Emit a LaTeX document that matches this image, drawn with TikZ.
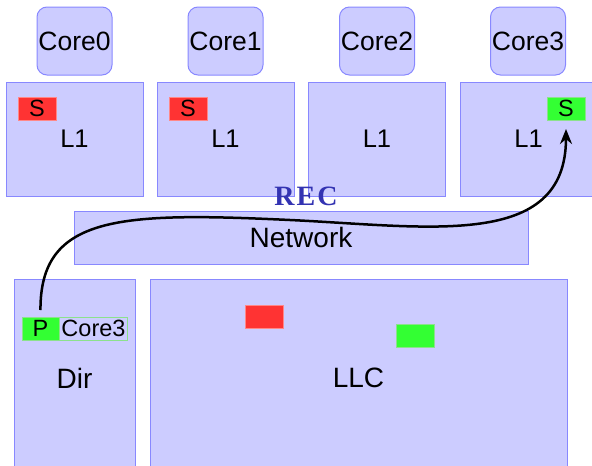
\documentclass[tikz,border=0pt]{standalone}
\usepackage{fontspec}
\setmainfont{Liberation Sans}
\newfontfamily\recfont{Liberation Serif}
\usetikzlibrary{arrows.meta}
\definecolor{boxfill}{RGB}{204,204,255}
\definecolor{boxline}{RGB}{136,136,255}
\definecolor{redfill}{RGB}{255,51,51}
\definecolor{redline}{RGB}{255,136,136}
\definecolor{greenfill}{RGB}{51,255,51}
\definecolor{greenline}{RGB}{140,225,140}
\definecolor{recblue}{RGB}{51,51,178}

\begin{document}
\begin{tikzpicture}[x=1pt,y=-1pt,
  unit/.style={draw=boxline, fill=boxfill, line width=1pt, inner sep=0pt, outer sep=0pt,
    font=\fontsize{28}{32}\selectfont},
  core/.style={unit, rounded corners=10pt, minimum width=75pt, minimum height=68pt,
    font=\fontsize{26.5}{30}\selectfont},
  cache/.style={unit, minimum width=137pt, minimum height=114pt,
    font=\fontsize{25.5}{30}\selectfont},
  tag/.style={inner sep=0pt, outer sep=0pt, line width=1pt, minimum width=38pt,
    minimum height=23pt, font=\fontsize{23.5}{26}\selectfont},
  redtag/.style={tag, fill=redfill, draw=redline},
  greentag/.style={tag, fill=greenfill, draw=greenline},
  msg/.style={-{Stealth[length=15pt,width=12pt]}, line width=2.5pt},
]
\useasboundingbox (0,0) rectangle (592,466);
\clip (0,0) rectangle (592,466);

% cores
\node[core] (c0) at (74.5,41) {Core0};
\node[core] (c1) at (225.5,41) {Core1};
\node[core] (c2) at (377,41) {Core2};
\node[core] (c3) at (528,41) {Core3};

% private L1 caches
\node[cache] (l0) at (74.5,139) {L1};
\node[cache] (l1) at (225.5,139) {L1};
\node[cache] (l2) at (377,139) {L1};
\node[cache] (l3) at (528.5,139) {L1};

% shared-state copies
\node[redtag] (s0) at (37,108.5) {S};
\node[redtag] (s1) at (188,108.5) {S};
\node[greentag] (s3) at (566,108.5) {S};

% interconnect
\node[unit, minimum width=454pt, minimum height=53pt] (net) at (301,237.5) {Network};

% directory and last-level cache
\node[unit, minimum width=121pt, minimum height=198pt] (dir) at (74.5,378) {Dir};
\node[unit, minimum width=417pt, minimum height=198pt] (llc) at (358.5,378) {LLC};

% directory entry
\node[greentag, minimum width=37pt] (p) at (40.5,328.5) {P};
\node[tag, draw=greenline, minimum width=68.5pt] (own) at (93.5,328.5) {Core3};

% LLC lines
\node[redtag] (lr) at (264,316.5) {};
\node[greentag] (lg) at (415,336) {};

% recall message
\node[text=recblue, font=\recfont\bfseries\fontsize{28}{30}\selectfont] (rec) at (306,196)
  {R\kern2pt E\kern2pt C};
\draw[msg, shorten <=7pt, shorten >=9pt] (p.north)
  .. controls (40,215) and (120,212) .. (290,220)
  .. controls (430,226.6) and (566,250) .. (s3.south);
\end{tikzpicture}
\end{document}
